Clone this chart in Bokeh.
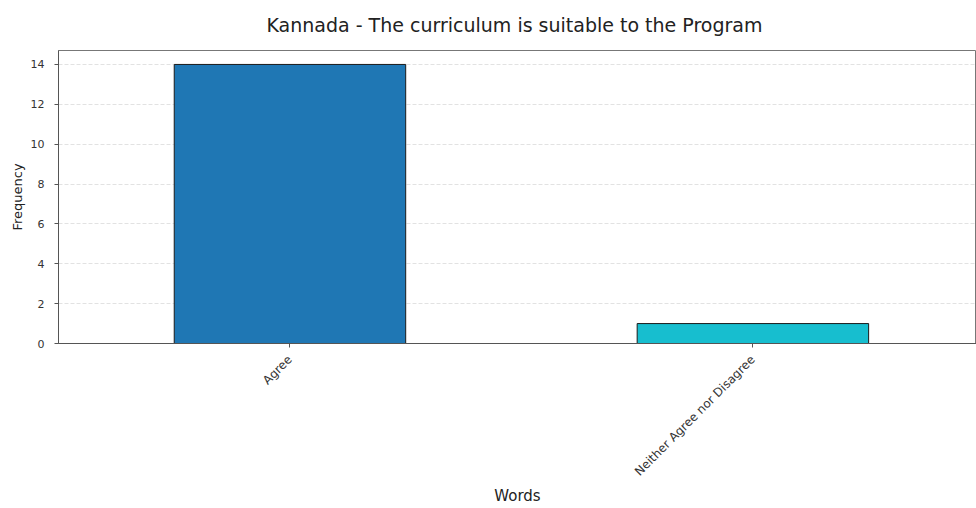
import math
from bokeh.plotting import figure
from bokeh.models import Range1d, ColumnDataSource, FixedTicker
from bokeh.embed import file_html
from bokeh.resources import INLINE

categories = ["Agree", "Neither Agree nor Disagree"]
counts = [14, 1]
colors = ["#1f77b4", "#17becf"]
y_ticks = [0, 2, 4, 6, 8, 10, 12, 14]

xs = list(range(len(categories)))
src = ColumnDataSource(dict(x=xs, top=counts, color=colors))

FONT = "DejaVu Sans"

p = figure(width=976, height=508, output_backend="svg", toolbar_location=None,
           x_range=Range1d(-0.5, 1.483), y_range=Range1d(0, 14.7),
           title="Kannada  - The curriculum is suitable to the Program",
           min_border_left=58, min_border_right=0, min_border_top=48, min_border_bottom=165)

p.vbar(x="x", top="top", width=0.5, bottom=0, fill_color="color",
       line_color="#1a1a1a", line_width=1, source=src)

p.title.align = "center"
p.title.vertical_align = "top"
p.title.text_font = FONT
p.title.text_font_size = "19px"
p.title.text_font_style = "normal"
p.title.text_color = "#222222"
p.title.offset = 0
p.title.standoff = 26

p.xaxis.ticker = FixedTicker(ticks=xs)
p.xaxis.major_label_overrides = {i: c for i, c in enumerate(categories)}
p.xaxis.major_label_orientation = math.pi / 4

p.yaxis.ticker = FixedTicker(ticks=y_ticks)

for ax in (p.xaxis[0], p.yaxis[0]):
    ax.major_label_text_font = FONT
    ax.major_label_text_color = "#333333"
    ax.axis_label_text_font = FONT
    ax.axis_label_text_font_style = "normal"
    ax.axis_label_text_color = "#222222"
    ax.axis_line_color = "#555555"
    ax.major_tick_line_color = "#555555"
    ax.major_tick_out = 4
    ax.major_tick_in = 0
    ax.minor_tick_line_color = None

p.xaxis.major_label_text_font_size = "12px"
p.xaxis.major_label_standoff = 10
p.xaxis.axis_label = "Words"
p.xaxis.axis_label_text_font_size = "15px"
p.xaxis.axis_label_standoff = 1

p.yaxis.major_label_text_font_size = "11px"
p.yaxis.major_label_standoff = 10
p.yaxis.axis_label_text_font_size = "13px"
p.yaxis.axis_label = "Frequency"
p.yaxis.axis_label_standoff = 3

p.xgrid.grid_line_color = None
p.ygrid.ticker = FixedTicker(ticks=y_ticks)
p.ygrid.grid_line_color = "#e2e2e2"
p.ygrid.grid_line_dash = "4 2"
p.ygrid.grid_line_width = 1

p.outline_line_color = "#777777"
p.background_fill_color = "white"
p.border_fill_color = "white"

open("out.html", "w").write(file_html(p, INLINE))
